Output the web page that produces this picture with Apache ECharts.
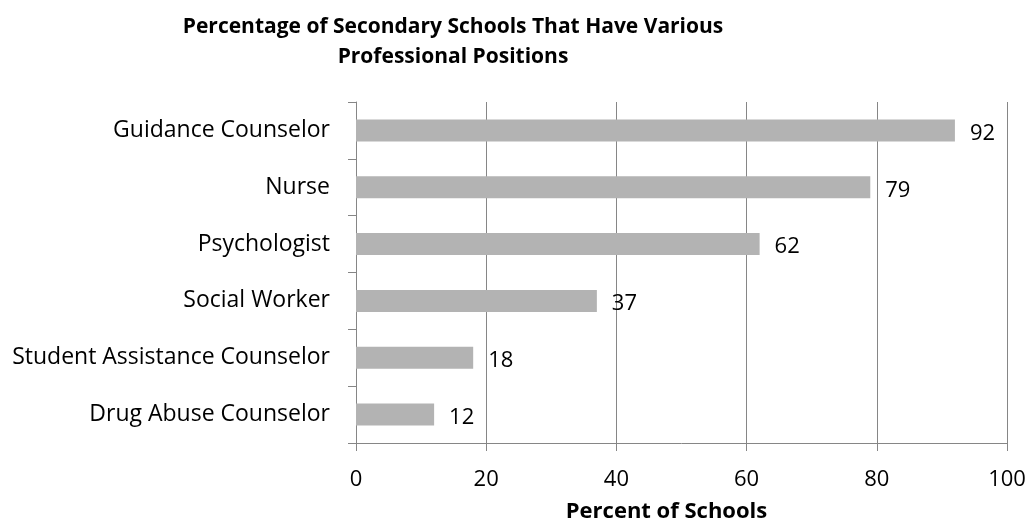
<!DOCTYPE html>
<html>
<head>
<meta charset="utf-8">
<script src="https://cdn.jsdelivr.net/npm/echarts@6/dist/echarts.min.js"></script>
<style>
  html, body { margin: 0; padding: 0; background: #fff; }
  #chart { width: 1031px; height: 521px; }
</style>
</head>
<body>
<div id="chart"></div>
<script>
// categories, top to bottom
const positions = [
  'Guidance Counselor',
  'Nurse',
  'Psychologist',
  'Social Worker',
  'Student Assistance Counselor',
  'Drug Abuse Counselor'
];
// percent of schools
const percents = [92, 79, 62, 37, 18, 12];
const xTicks = [0, 20, 40, 60, 80, 100];

const FONT = 'Open Sans';
const axisGray = '#868686';

const chart = echarts.init(document.getElementById('chart'));

const option = {
  animation: false,
  title: {
    text: 'Percentage of Secondary Schools That Have Various\nProfessional Positions',
    left: 448,
    top: 7,
    textAlign: 'center',
    textStyle: {
      fontFamily: FONT,
      fontWeight: 'bold',
      fontSize: 21,
      lineHeight: 30,
      color: '#000'
    }
  },
  grid: {
    left: 356,
    right: 24,
    top: 102,
    bottom: 78,
    outerBoundsMode: 'none'
  },
  xAxis: {
    type: 'value',
    min: xTicks[0],
    max: xTicks[xTicks.length - 1],
    interval: 20,
    name: 'Percent of Schools',
    nameLocation: 'middle',
    nameGap: 58,
    nameTextStyle: {
      fontFamily: FONT,
      fontWeight: 'bold',
      fontSize: 22,
      color: '#000',
      padding: [0, 30, 0, 0]
    },
    axisLine: { show: true, lineStyle: { color: axisGray, width: 1 } },
    axisTick: { show: true, length: 8, lineStyle: { color: axisGray } },
    axisLabel: {
      fontFamily: FONT,
      fontSize: 22,
      color: '#000',
      margin: 26
    },
    splitLine: { show: true, lineStyle: { color: axisGray, width: 1 } }
  },
  yAxis: {
    type: 'category',
    data: positions,
    inverse: true,
    axisLine: { show: true, lineStyle: { color: axisGray, width: 1 } },
    axisTick: { show: true, length: 8, lineStyle: { color: axisGray } },
    axisLabel: {
      fontFamily: FONT,
      fontSize: 23,
      color: '#000',
      margin: 26
    }
  },
  series: [
    {
      type: 'bar',
      data: percents,
      barWidth: 22,
      itemStyle: { color: '#b3b3b3' },
      label: {
        show: true,
        position: 'right',
        distance: 15,
        offset: [0, 3],
        fontFamily: FONT,
        fontSize: 22,
        color: '#000'
      }
    }
  ]
};

chart.setOption(option);
</script>
</body>
</html>
